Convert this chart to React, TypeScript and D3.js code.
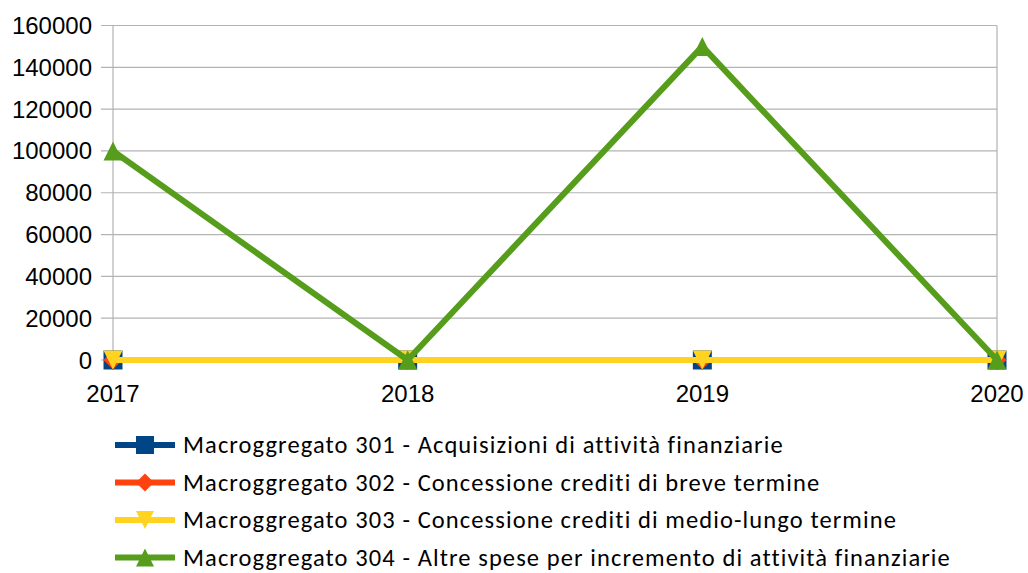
import React from "react";
import * as d3 from "d3";

const years = ["2017", "2018", "2019", "2020"];
const yTicks = [0, 20000, 40000, 60000, 80000, 100000, 120000, 140000, 160000];
const seriesNames = [
  "Macroggregato 301 - Acquisizioni di attività finanziarie",
  "Macroggregato 302 - Concessione crediti di breve termine",
  "Macroggregato 303 - Concessione crediti di medio-lungo termine",
  "Macroggregato 304 - Altre spese per incremento di attività finanziarie",
];
const s301 = [0, 0, 0, 0];
const s302 = [0, 0, 0, 0];
const s303 = [0, 0, 0, 0];
const s304 = [100000, 0, 150000, 0];
const colors = ["#004586", "#ff420e", "#ffd320", "#579d1c"];
const markers = ["square", "diamond", "down", "up"];

const W = 1028, H = 573;
const left = 113, right = 997, top = 25.5, bottom = 360;

function markerPath(type: string, s: number) {
  const h = s / 2;
  if (type === "square") return `M${-h},${-h}H${h}V${h}H${-h}Z`;
  if (type === "diamond") return `M0,${-h}L${h},0L0,${h}L${-h},0Z`;
  if (type === "down") return `M${-h},${-h}L${h},${-h}L0,${h}Z`;
  return `M0,${-h}L${h},${h}L${-h},${h}Z`;
}

export default function App() {
  const x = d3.scalePoint<string>().domain(years).range([left, right]);
  const y = d3.scaleLinear().domain([0, 160000]).range([bottom, top]);
  const data = [s301, s302, s303, s304];
  const line = d3
    .line<number>()
    .x((_, i) => x(years[i]) as number)
    .y((d) => y(d));
  const ms = 19;
  return (
    <svg width={W} height={H} style={{ position: "absolute", left: 0, top: 0 }}>
      <rect width={W} height={H} fill="#fff" />
      {yTicks.map((t) => (
        <line key={t} x1={left - 12} x2={right} y1={y(t)} y2={y(t)} stroke="#b3b3b3" strokeWidth={1.2} />
      ))}
      <line x1={left} x2={left} y1={top} y2={bottom + 10} stroke="#b3b3b3" strokeWidth={1.2} />
      <line x1={right} x2={right} y1={top} y2={bottom + 10} stroke="#b3b3b3" strokeWidth={1.2} />
      {years.map((yr) => (
        <line key={yr} x1={x(yr)} x2={x(yr)} y1={bottom} y2={bottom + 10} stroke="#b3b3b3" strokeWidth={1.2} />
      ))}
      {yTicks.map((t) => (
        <text key={t} x={92} y={y(t)} textAnchor="end" dominantBaseline="central"
          fontFamily="Liberation Sans, Arial, sans-serif" fontSize={24} fill="#000">{t}</text>
      ))}
      {years.map((yr) => (
        <text key={yr} x={x(yr)} y={393} textAnchor="middle" dominantBaseline="central"
          fontFamily="Liberation Sans, Arial, sans-serif" fontSize={24} fill="#000">{yr}</text>
      ))}
      {data.map((d, si) => (
        <g key={si}>
          <path d={line(d) || ""} fill="none" stroke={colors[si]} strokeWidth={6} strokeLinejoin="round" />
          {d.map((v, i) => (
            <path key={i} transform={`translate(${x(years[i])},${y(v)})`} d={markerPath(markers[si], ms)} fill={colors[si]} />
          ))}
        </g>
      ))}
      {seriesNames.map((n, i) => {
        const cy = 445 + i * 37.5;
        return (
          <g key={n}>
            <line x1={115} x2={175} y1={cy} y2={cy} stroke={colors[i]} strokeWidth={6} />
            <path transform={`translate(145,${cy})`} d={markerPath(markers[i], 18)} fill={colors[i]} />
            <text x={183} y={cy} dominantBaseline="central" fontFamily="Carlito, Lato, sans-serif" fontSize={24.5}
              letterSpacing={1.1} fill="#000">{n}</text>
          </g>
        );
      })}
    </svg>
  );
}
